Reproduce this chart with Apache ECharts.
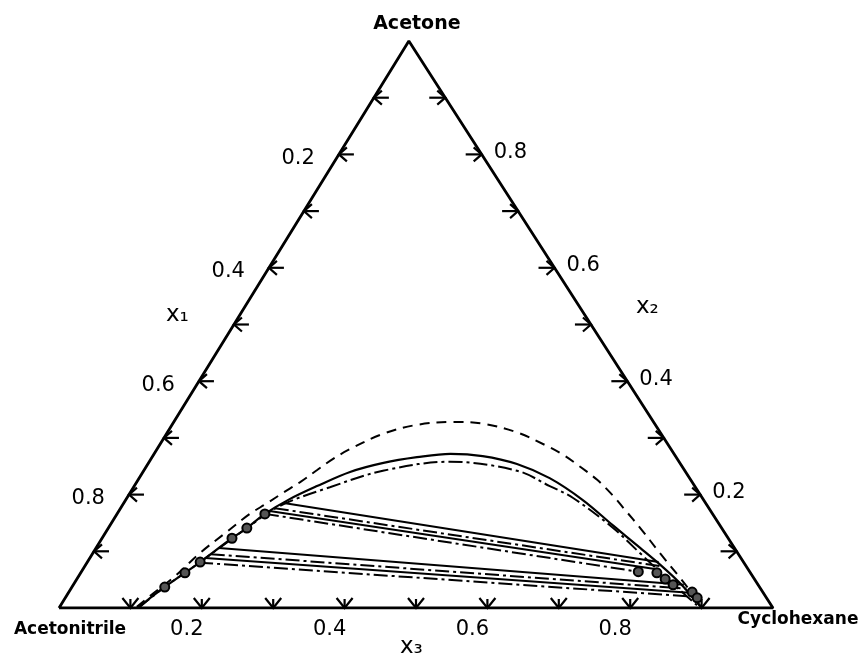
<!DOCTYPE html>
<html><head><meta charset="utf-8">
<script src="https://cdn.jsdelivr.net/npm/echarts@6/dist/echarts.min.js"></script>
<style>html,body{margin:0;padding:0;background:#fff}#c{width:866px;height:663px}</style>
</head><body><div id="c"></div>
<script>
// Compositions stored as [x3 (cyclohexane), x2 (acetone)]; x1 (acetonitrile) = 1 - x2 - x3
const vertexNames = ['Acetonitrile', 'Cyclohexane', 'Acetone'];
const axisTitles = ['x\u2081', 'x\u2082', 'x\u2083'];
const tickValues = [0.1, 0.2, 0.3, 0.4, 0.5, 0.6, 0.7, 0.8, 0.9];
const labelValues = [0.2, 0.4, 0.6, 0.8];
const tickLabelsLeft = ['0.2', '0.4', '0.6', '0.8'];
const tickLabelsRight = ['0.2', '0.4', '0.6', '0.8'];
const tickLabelsBottom = ['0.2', '0.4', '0.6', '0.8'];

const dashedBinodal = [
  [0.108, 0.002], [0.117, 0.021], [0.135, 0.056], [0.150, 0.097], [0.168, 0.132],
  [0.186, 0.166], [0.201, 0.185], [0.214, 0.203], [0.229, 0.222], [0.242, 0.243],
  [0.255, 0.263], [0.270, 0.280], [0.303, 0.307], [0.343, 0.323], [0.391, 0.328],
  [0.435, 0.325], [0.489, 0.310], [0.543, 0.286], [0.574, 0.270], [0.608, 0.249],
  [0.643, 0.226], [0.679, 0.198], [0.708, 0.173], [0.745, 0.141], [0.794, 0.097],
  [0.844, 0.053], [0.877, 0.023], [0.894, 0.007]
];
const solidBinodal = [
  [0.111, 0.000], [0.119, 0.018], [0.130, 0.037], [0.146, 0.062], [0.158, 0.081],
  [0.182, 0.123], [0.194, 0.141], [0.207, 0.166], [0.229, 0.192], [0.256, 0.215],
  [0.290, 0.240], [0.329, 0.256], [0.371, 0.266], [0.415, 0.272], [0.462, 0.268],
  [0.517, 0.254], [0.575, 0.229], [0.641, 0.190], [0.704, 0.146], [0.762, 0.106],
  [0.805, 0.076], [0.848, 0.044], [0.878, 0.019], [0.896, 0.004]
];
const dashDotBinodal = [
  [0.111, 0.000], [0.130, 0.037], [0.158, 0.081], [0.194, 0.141], [0.221, 0.180],
  [0.275, 0.213], [0.335, 0.242], [0.421, 0.258], [0.523, 0.242], [0.582, 0.215],
  [0.625, 0.194], [0.707, 0.141], [0.766, 0.097], [0.822, 0.055], [0.866, 0.023],
  [0.891, 0.005]
];
const expLeft = [[0.130, 0.037], [0.146, 0.062], [0.158, 0.081], [0.182, 0.123], [0.194, 0.141], [0.207, 0.166]];
const expRight = [[0.780, 0.064], [0.807, 0.062], [0.824, 0.051], [0.840, 0.041], [0.873, 0.028], [0.885, 0.018]];

const tieSolid = [
  [[0.224, 0.185], [0.800, 0.081]],
  [[0.211, 0.171], [0.806, 0.068]],
  [[0.172, 0.106], [0.855, 0.041]],
  [[0.162, 0.088], [0.870, 0.027]]
];
const tieDashDot = [
  [[0.216, 0.176], [0.805, 0.074]],
  [[0.207, 0.166], [0.780, 0.064]],
  [[0.166, 0.095], [0.862, 0.034]],
  [[0.157, 0.080], [0.878, 0.020]]
];

const SKEW = 0.49; // horizontal position of the apex (drawing layout)
const toXY = p => [p[0] + SKEW * p[1], p[1]];
const FONT = '"DejaVu Sans", sans-serif';

const chart = echarts.init(document.getElementById('c'), null, {renderer: 'canvas'});

const triangle = [[0, 0], [1, 0], [0, 1], [0, 0]].map(toXY);

// ticks: kind 0 = left side (x1), 1 = right side (x2), 2 = bottom (x3)
const ticks = [];
tickValues.forEach(v => {
  ticks.push(toXY([0, 1 - v]).concat([0]));
  ticks.push(toXY([1 - v, v]).concat([1]));
  ticks.push(toXY([v, 0]).concat([2]));
});
const labels = [];
labelValues.forEach((v, i) => {
  labels.push(toXY([0, 1 - v]).concat([0, i]));
  labels.push(toXY([1 - v, v]).concat([1, i]));
  labels.push(toXY([v, 0]).concat([2, i]));
});
const vertices = [[0, 0], [1, 0], [0, 1]].map((p, i) => toXY(p).concat([i]));

const lineBase = {type: 'line', symbol: 'none', silent: true, animation: false};
const series = [
  Object.assign({}, lineBase, {data: triangle, lineStyle: {color: '#000', width: 2.8}, z: 5}),
  Object.assign({}, lineBase, {data: dashedBinodal.map(toXY), smooth: 0.35,
    lineStyle: {color: '#000', width: 2, type: [10, 7]}}),
  Object.assign({}, lineBase, {data: solidBinodal.map(toXY), smooth: 0.35,
    lineStyle: {color: '#000', width: 2.2}}),
  Object.assign({}, lineBase, {data: dashDotBinodal.map(toXY), smooth: 0.35,
    lineStyle: {color: '#000', width: 2, type: [14, 4, 3, 4]}})
];
tieSolid.forEach(t => series.push(Object.assign({}, lineBase, {data: t.map(toXY),
  lineStyle: {color: '#000', width: 2}})));
tieDashDot.forEach(t => series.push(Object.assign({}, lineBase, {data: t.map(toXY),
  lineStyle: {color: '#000', width: 2, type: [14, 4, 3, 4]}})));
series.push({
  type: 'scatter', silent: true, animation: false, symbol: 'circle', symbolSize: 9, z: 6,
  data: expLeft.concat(expRight).map(toXY),
  itemStyle: {color: '#555', borderColor: '#000', borderWidth: 2, opacity: 1}
});
series.push({
  type: 'custom', silent: true, animation: false, z: 6, data: ticks,
  renderItem: function (params, api) {
    const p = api.coord([api.value(0), api.value(1)]);
    const k = api.value(2);
    let head, stem;
    if (k === 0) {
      head = [[p[0] + 8, p[1] - 7], [p[0], p[1]], [p[0] + 8, p[1] + 7]];
      stem = [[p[0], p[1]], [p[0] + 15, p[1]]];
    } else if (k === 1) {
      head = [[p[0] - 8, p[1] - 7], [p[0], p[1]], [p[0] - 8, p[1] + 7]];
      stem = [[p[0] - 16, p[1]], [p[0], p[1]]];
    } else {
      head = [[p[0] - 8, p[1] - 10], [p[0], p[1]], [p[0] + 8, p[1] - 10]];
      stem = [[p[0], p[1] - 9], [p[0], p[1]]];
    }
    const st = {stroke: '#000', lineWidth: 2.2, fill: null};
    return {type: 'group', children: [
      {type: 'polyline', shape: {points: head}, style: st},
      {type: 'polyline', shape: {points: stem}, style: st}
    ]};
  }
});
series.push({
  type: 'custom', silent: true, animation: false, z: 7, data: labels,
  renderItem: function (params, api) {
    const p = api.coord([api.value(0), api.value(1)]);
    const k = api.value(2), i = api.value(3);
    let txt, x, y, align;
    if (k === 0) { txt = tickLabelsLeft[i]; x = p[0] - 24; y = p[1] + 4; align = 'right'; }
    else if (k === 1) { txt = tickLabelsRight[i]; x = p[0] + 12; y = p[1] - 2; align = 'left'; }
    else { txt = tickLabelsBottom[i]; x = p[0] - 15; y = p[1] + 22; align = 'center'; }
    return {type: 'text', x: x, y: y, style: {text: txt, fill: '#000',
      font: '21px ' + FONT, align: align, verticalAlign: 'middle'}};
  }
});
series.push({
  type: 'custom', silent: true, animation: false, z: 7, data: vertices,
  renderItem: function (params, api) {
    const p = api.coord([api.value(0), api.value(1)]);
    const i = api.value(2);
    const off = [[11, 22, 17], [25, 12, 17], [8, -17, 19]][i];
    return {type: 'text', x: p[0] + off[0], y: p[1] + off[1], style: {text: vertexNames[i],
      fill: '#000', font: 'bold ' + off[2] + 'px ' + FONT, align: 'center', verticalAlign: 'middle'}};
  }
});

chart.setOption({
  animation: false,
  backgroundColor: '#fff',
  grid: {left: 59, right: 93, top: 41, bottom: 55},
  xAxis: {type: 'value', min: 0, max: 1, show: false},
  yAxis: {type: 'value', min: 0, max: 1, show: false},
  graphic: [
    {type: 'text', left: 166, top: 304, style: {text: axisTitles[0], font: '23px ' + FONT, fill: '#000'}},
    {type: 'text', left: 636, top: 296, style: {text: axisTitles[1], font: '23px ' + FONT, fill: '#000'}},
    {type: 'text', left: 400, top: 636, style: {text: axisTitles[2], font: '23px ' + FONT, fill: '#000'}}
  ],
  series: series
});
</script></body></html>
